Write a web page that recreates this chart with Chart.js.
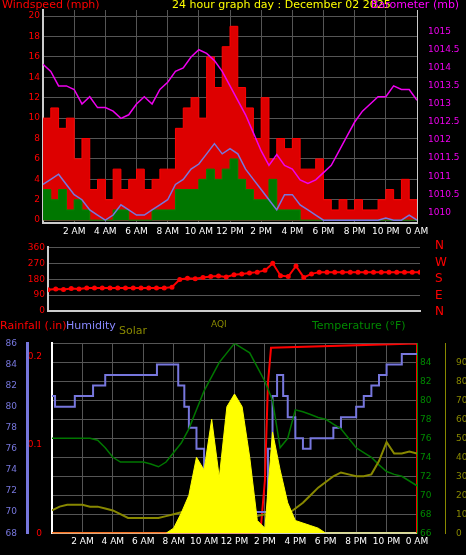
<!DOCTYPE html>
<html><head><meta charset="utf-8">
<script src="https://cdn.jsdelivr.net/npm/chart.js@4"></script>
<style>
body{margin:0;background:#000;width:466px;height:555px;overflow:hidden;font-family:"DejaVu Sans",sans-serif;position:relative}
canvas{position:absolute;left:0}
.t{position:absolute;font-size:11px;white-space:nowrap}
</style></head><body>
<canvas id="c1" width="466" height="240" style="top:0px"></canvas>
<canvas id="c2" width="466" height="84" style="top:239px"></canvas>
<canvas id="c3" width="466" height="215" style="top:335px"></canvas>
<div class="t" style="left:2px;top:-2px;color:#f00">Windspeed (mph)</div>
<div class="t" style="left:172px;top:-2px;color:#ff0">24 hour graph day : December 02 2025</div>
<div class="t" style="left:371px;top:-2px;color:#f0f">Barometer (mb)</div>
<div class="t" style="left:435px;top:237px;color:#f00;font-size:12px;line-height:16.5px">N<br>W<br>S<br>E<br>N</div>
<div class="t" style="left:0;top:319px;color:#f00">Rainfall (.in)</div>
<div class="t" style="left:66px;top:319px;color:#88f">Humidity</div>
<div class="t" style="left:119px;top:324px;color:#880">Solar</div>
<div class="t" style="left:211px;top:319px;color:#880;font-size:9px">AQI</div>
<div class="t" style="left:312px;top:319px;color:#080">Temperature (°F)</div>
<script>
const hours = [0,0.5,1,1.5,2,2.5,3,3.5,4,4.5,5,5.5,6,6.5,7,7.5,8,8.5,9,9.5,10,10.5,11,11.5,12,12.5,13,13.5,14,14.5,15,15.5,16,16.5,17,17.5,18,18.5,19,19.5,20,20.5,21,21.5,22,22.5,23,23.5,24];
const timeLabels = ['', '2 AM', '4 AM', '6 AM', '8 AM', '10 AM', '12 PM', '2 PM', '4 PM', '6 PM', '8 PM', '10 PM', '0 AM'];
const windGust = [10,11,9,10,6,8,3,4,2,5,3,4,5,3,4,5,5,9,11,12,10,16,13,17,19,13,11,8,12,6,8,7,8,5,5,6,2,1,2,1,2,1,1,2,3,2,4,2,1];
const windAvg = [3,2,3,1,2,1,0,0,0,1,1,0,0,0,1,1,1,3,3,3,4,5,4,5,6,4,3,2,2,4,1,1,1,0,0,0,0,0,0,0,0,0,0,0,0,0,0,0,0];
const windSmooth = [3.5,4,4.5,3.5,2.5,2,1,0.5,0,0.5,1.5,1,0.5,0.5,1,1.5,2,3.5,4,5,5.5,6.5,7.5,6.5,7,6.5,5,4,3,2,1,2.5,2.5,1.5,1,0.5,0,0,0,0,0,0,0,0,0.2,0,0,0.5,0];
const baro = [1014.1,1013.9,1013.5,1013.5,1013.4,1013.0,1013.2,1012.9,1012.9,1012.8,1012.6,1012.7,1013.0,1013.2,1013.0,1013.4,1013.6,1013.9,1014.0,1014.3,1014.5,1014.4,1014.2,1013.9,1013.5,1013.1,1012.7,1012.2,1011.7,1011.3,1011.6,1011.3,1011.2,1010.9,1010.8,1010.9,1011.1,1011.3,1011.7,1012.1,1012.5,1012.8,1013.0,1013.2,1013.2,1013.5,1013.4,1013.4,1013.1];
const windDir = [120,125,122,128,125,130,130,130,130,130,130,130,130,130,130,130,135,178,185,182,190,195,198,192,205,210,215,220,230,270,200,195,255,190,210,220,220,220,220,220,220,220,220,220,220,220,220,220,220];
const humHours = [0,0.2,1.5,2.7,3.5,6.9,8,8.3,8.7,9,9.5,10,10.5,11,13,14,14.2,14.5,14.8,15.2,15.5,16,16.5,17,18,18.5,19,20,20.5,21,21.5,22,23,24];
const humidity = [81,80,81,82,83,84,84,82,80,78,76,74,72,70,70,70,76,81,83,81,79,77,76,77,77,78,79,80,81,82,83,84,85,85];
const rainHours = [0,13.7,14,14.2,14.4,24,24];
const rain = [0,0,0.06,0.17,0.21,0.215,0];
const temperature = [76,76,76,76,76,76,75.8,75,74,73.5,73.5,73.5,73.5,73.3,73,73.5,74.5,75.5,77,79,81,82.5,84,85,86,85.5,85,83.5,82,80,75,76,79,78.8,78.5,78.2,78,77.5,77,76,75,74.5,74,73.2,72.5,72.2,72,71.5,71];
const solar = [0,0,0,0,0,0,0,0,0,0,0,0,0,0,0,0,2,8,15,30,25,45,22,50,55,50,30,5,2,40,25,12,5,4,3,2,0,0,0,0,0,0,0,0,0,0,0,0,0];
const aqi = [12,14,15,15,15,14,14,13,12,10,8,8,8,8,8,9,10,11,12,10,8,6,5,5,5,6,8,9,10,9,8,10,13,16,20,24,27,30,32,31,30,30,31,38,48,42,42,43,42];
const windTicks = [0,2,4,6,8,10,12,14,16,18,20];
const rainTicks = [0,0.1,0.2];

const pts = (xs, ys) => xs.map((x, i) => ({ x, y: ys[i] }));
const F = { family: 'DejaVu Sans', size: 9 };
const grid = { color: '#555', borderDash: [1, 2], drawTicks: false };
const xAxis = (show) => ({
  type: 'linear', min: 0, max: 24,
  ticks: { display: show, stepSize: 2, maxRotation: 0, autoSkip: false, color: '#fff', font: F, callback: v => timeLabels[v / 2] },
  grid, border: { color: '#ccc', width: 2 }
});
const fixW = (w) => (s) => { s.width = w; };
const setTicks = (list) => (s) => { s.ticks = list.map(value => ({ value })); };
Chart.defaults.animation = false;
Chart.defaults.responsive = false;
Chart.defaults.plugins.legend.display = false;
Chart.defaults.plugins.tooltip.enabled = false;
Chart.defaults.elements.point.radius = 0;

new Chart(document.getElementById('c1'), {
  type: 'line',
  data: { datasets: [
    { data: pts(hours, baro), yAxisID: 'yb', borderColor: '#e0e', borderWidth: 1.5 },
    { data: pts(hours, windSmooth), yAxisID: 'y', borderColor: '#77d', borderWidth: 1.5 },
    { data: pts(hours, windAvg), yAxisID: 'y', borderColor: '#080', backgroundColor: '#070', fill: 'origin', stepped: true, borderWidth: 1 },
    { data: pts(hours, windGust), yAxisID: 'y', borderColor: '#f00', backgroundColor: '#d00', fill: 'origin', stepped: true, borderWidth: 1 }
  ] },
  options: {
    layout: { padding: { top: 10 } },
    scales: {
      x: xAxis(true),
      y: { min: -0.3, max: 20.6, afterFit: fixW(43), afterBuildTicks: setTicks(windTicks), ticks: { color: '#f00', font: F }, grid, border: { color: '#ccc', width: 2 } },
      yb: { position: 'right', min: 1009.7, max: 1015.6, afterFit: fixW(49), afterBuildTicks: s => { s.ticks = s.ticks.filter(t => Math.abs(t.value * 2 - Math.round(t.value * 2)) < 0.01); }, ticks: { stepSize: 0.5, color: '#e0e', font: F, callback: v => String(+v.toFixed(1)) }, grid: { display: false }, border: { color: '#ccc' } }
    }
  }
});

new Chart(document.getElementById('c2'), {
  type: 'line',
  data: { datasets: [
    { data: pts(hours, windDir), borderColor: '#f00', backgroundColor: '#f00', borderWidth: 2, pointRadius: 1.5 }
  ] },
  options: {
    layout: { padding: { top: 8, bottom: 4 } },
    scales: {
      x: { ...xAxis(false), grid: { display: false } },
      y: { min: 0, max: 360, afterFit: fixW(48), ticks: { stepSize: 90, color: '#f00', font: F }, grid, border: { color: '#ccc', width: 2 } },
      yr: { position: 'right', afterFit: fixW(46), ticks: { display: false }, grid: { display: false }, border: { display: false } }
    }
  }
});

new Chart(document.getElementById('c3'), {
  type: 'line',
  data: { datasets: [
    { data: pts(hours, solar), yAxisID: 'ys', borderColor: '#ff0', backgroundColor: '#ff0', fill: 'origin', borderWidth: 1 },
    { data: pts(hours, aqi), yAxisID: 'ya', borderColor: '#880', borderWidth: 2 },
    { data: pts(hours, temperature), yAxisID: 'yt', borderColor: '#070', borderWidth: 1.5 },
    { data: pts(humHours, humidity), yAxisID: 'yh', borderColor: '#77d', borderWidth: 2, stepped: true },
    { data: pts(rainHours, rain), yAxisID: 'yr', borderColor: '#f00', borderWidth: 2 }
  ] },
  options: {
    layout: { padding: { top: 4 } },
    scales: {
      x: xAxis(true),
      yr: { position: 'left', min: 0, max: 0.215, afterFit: fixW(25), afterBuildTicks: setTicks(rainTicks), ticks: { color: '#f00', font: F, padding: 2 }, grid: { display: false }, border: { color: '#fff', width: 2 } },
      yh: { position: 'left', min: 68, max: 86, afterFit: fixW(27), ticks: { stepSize: 2, color: '#77d', font: F, padding: 2 }, grid: { display: false }, border: { color: '#77d', width: 3 } },
      yt: { position: 'right', min: 66, max: 86, afterFit: fixW(28), ticks: { stepSize: 2, color: '#080', font: F, callback: v => v < 86 ? v : '' }, grid, border: { color: '#080' } },
      ya: { position: 'right', min: 0, max: 100, afterFit: fixW(21), ticks: { stepSize: 10, color: '#880', font: F, callback: v => v < 100 ? v : '' }, grid: { display: false }, border: { color: '#880' } },
      ys: { display: false, min: 0, max: 75 }
    }
  }
});
</script>
</body></html>
